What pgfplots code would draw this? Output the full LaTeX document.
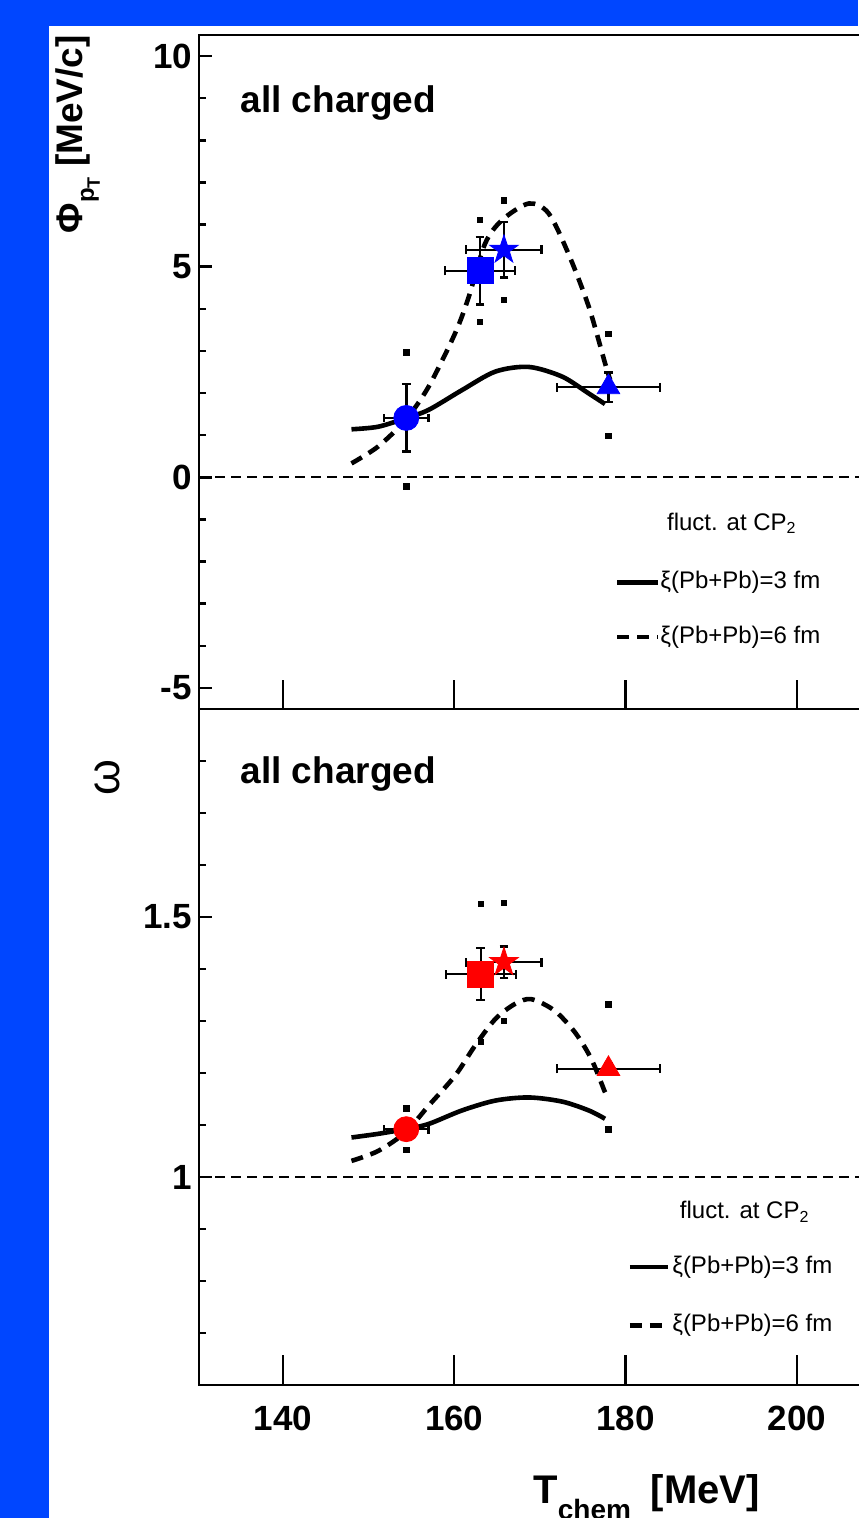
\documentclass[border=0pt]{standalone}
\usepackage{fontspec}
\setmainfont{Liberation Sans}
\usepackage{pgfplots}
\pgfplotsset{compat=1.18}
\definecolor{bgblue}{RGB}{0,70,255}
\definecolor{mblue}{RGB}{0,0,255}
\definecolor{mred}{RGB}{255,0,0}

% filled five-pointed star
\pgfdeclareplotmark{fstar}{%
  \pgfpathmoveto{\pgfpointpolar{90}{\pgfplotmarksize}}%
  \pgfpathlineto{\pgfpointpolar{126}{0.382\pgfplotmarksize}}%
  \pgfpathlineto{\pgfpointpolar{162}{\pgfplotmarksize}}%
  \pgfpathlineto{\pgfpointpolar{198}{0.382\pgfplotmarksize}}%
  \pgfpathlineto{\pgfpointpolar{234}{\pgfplotmarksize}}%
  \pgfpathlineto{\pgfpointpolar{270}{0.382\pgfplotmarksize}}%
  \pgfpathlineto{\pgfpointpolar{306}{\pgfplotmarksize}}%
  \pgfpathlineto{\pgfpointpolar{342}{0.382\pgfplotmarksize}}%
  \pgfpathlineto{\pgfpointpolar{18}{\pgfplotmarksize}}%
  \pgfpathlineto{\pgfpointpolar{54}{0.382\pgfplotmarksize}}%
  \pgfpathclose\pgfusepathqfillstroke}

\pgfplotsset{
  panel/.style={
    scale only axis, width=331.5pt, xmin=130.2, xmax=207.6,
    axis line style={line width=1.4pt},
    tick align=inside, ytick pos=left,
    major tick length=6.5pt, minor tick length=3.5pt,
    tick style={line width=1.2pt, black},
    /pgf/number format/assume math mode=true,
    ticklabel style={font=\fontsize{17.5}{18}\selectfont\bfseries},
  },
  sys/.style={only marks, mark=square*, mark size=1.4pt, black, forget plot},
  theo/.style={black, line width=2.3pt, smooth, tension=0.5, mark=none, forget plot},
  theod/.style={theo, dash pattern=on 6pt off 4pt},
  errb/.style={forget plot, mark=none, draw=none,
    error bars/.cd, x dir=both, x explicit, y dir=both, y explicit,
    error mark=|,
    error bar style={draw=black, solid, line width=1.2pt},
    error mark options={draw=black, solid, line width=1.2pt, mark size=2.2pt}},
}
\newcommand{\legfont}{\fontsize{12}{12}\selectfont}

\begin{document}
\begin{tikzpicture}
\useasboundingbox (0,0) rectangle (429pt,-759pt);
\fill[bgblue] (0,0) rectangle (429pt,-759pt);
\fill[white] (24.5pt,-13pt) rectangle (429pt,-759pt);

% ---------- top panel: Phi_pT ----------
\begin{axis}[panel, at={(99.5pt,-17.5pt)}, anchor=north west, height=337pt,
  ymin=-5.5, ymax=10.5, xtick=\empty,
  ytick={-5,0,5,10}, minor ytick={-4,-3,-2,-1,1,2,3,4,6,7,8,9}]
\draw[black, line width=1pt, dash pattern=on 5pt off 3pt] (axis cs:130.2,0) -- (axis cs:207.6,0);
\addplot[theo] coordinates {(148.0,1.14) (151.1,1.20) (154.3,1.40) (157.0,1.60) (160.9,2.07)
  (164.8,2.51) (168.7,2.62) (172.6,2.39) (175.7,1.99) (177.6,1.74)};
\addplot[theod] coordinates {(148.0,0.33) (151.1,0.73) (154.3,1.36) (157.0,2.15) (160.1,3.42)
  (161.7,4.29) (163.6,5.55) (165.6,6.11) (168.7,6.50) (171.0,6.27) (173.3,5.32) (175.7,4.05)
  (177.6,2.71) (178.2,2.31)};
\addplot[sys] coordinates {(154.4,2.97) (154.4,-0.21) (163.0,6.11) (163.0,3.69)
  (165.8,6.58) (165.8,4.21) (178.0,3.40) (178.0,0.98)};
\addplot[errb] coordinates {(154.4,1.41) +- (2.6,0.8) (163.0,4.90) +- (4.1,0.8)
  (165.8,5.40) +- (4.4,0.66) (178.0,2.14) +- (6.0,0.35)};
\addplot[only marks, mark=*, mark size=6.25pt, mblue] coordinates {(154.4,1.41)};
\addplot[only marks, mark=square*, mark size=6.5pt, mblue] coordinates {(163.0,4.90)};
\addplot[only marks, mark=fstar, mark size=7.5pt, mblue] coordinates {(165.8,5.40)};
\addplot[only marks, mark=triangle*, mark size=6.5pt, mblue] coordinates {(178.0,2.14)};
\pgfplotsinvokeforeach{140,160,180,200}{\draw[line width=1.2pt] (axis cs:#1,-5.5) -- ([yshift=14.5pt]axis cs:#1,-5.5);}
\node[anchor=west, inner sep=0, font=\fontsize{18.5}{19}\selectfont\bfseries] at (axis cs:135.0,8.88) {all charged};
\node[anchor=west, inner sep=0, font=\legfont] at (axis cs:184.8,-1.09) {fluct. at CP\textsubscript{2}};
\draw[black, line width=2.3pt] (axis cs:179.0,-2.49) -- (axis cs:183.8,-2.49);
\node[anchor=west, inner sep=0, font=\legfont] at (axis cs:184.0,-2.49) {ξ(Pb+Pb)=3 fm};
\draw[black, line width=2.3pt, dash pattern=on 6pt off 4pt] (axis cs:179.0,-3.79) -- (axis cs:183.8,-3.79);
\node[anchor=west, inner sep=0, font=\legfont] at (axis cs:184.0,-3.79) {ξ(Pb+Pb)=6 fm};
\end{axis}

% ---------- bottom panel: omega ----------
\begin{axis}[panel, at={(99.5pt,-354.5pt)}, anchor=north west, height=338pt,
  ymin=0.6, ymax=1.9,
  xtick={140,160,180,200}, xtick style={draw=none},
  xticklabel style={yshift=-7pt},
  ytick={1,1.5}, minor ytick={0.6,0.7,0.8,0.9,1.1,1.2,1.3,1.4,1.6,1.7,1.8}]
\draw[black, line width=1pt, dash pattern=on 5pt off 3pt] (axis cs:130.2,1) -- (axis cs:207.6,1);
\addplot[theo] coordinates {(148.0,1.076) (151.1,1.083) (154.3,1.092) (157.0,1.102) (160.9,1.128)
  (164.8,1.147) (168.7,1.153) (172.6,1.145) (175.7,1.128) (177.6,1.112)};
\addplot[theod] coordinates {(148.0,1.031) (151.1,1.050) (154.3,1.086) (157.0,1.137) (160.1,1.195)
  (162.4,1.252) (164.8,1.304) (167.1,1.333) (169.0,1.342) (171.7,1.320) (174.1,1.278)
  (176.0,1.227) (177.6,1.163) (178.0,1.150)};
\addplot[sys] coordinates {(154.4,1.132) (154.4,1.052) (163.1,1.525) (163.1,1.26)
  (165.8,1.527) (165.8,1.30) (178.0,1.332) (178.0,1.092)};
\addplot[errb] coordinates {(154.4,1.092) +- (2.6,0.01) (163.1,1.390) +- (4.1,0.05)
  (165.8,1.413) +- (4.4,0.03) (178.0,1.208) +- (6.0,0.01)};
\addplot[only marks, mark=*, mark size=6.25pt, mred] coordinates {(154.4,1.092)};
\addplot[only marks, mark=square*, mark size=6.5pt, mred] coordinates {(163.1,1.390)};
\addplot[only marks, mark=fstar, mark size=7.5pt, mred] coordinates {(165.8,1.413)};
\addplot[only marks, mark=triangle*, mark size=6.5pt, mred] coordinates {(178.0,1.208)};
\pgfplotsinvokeforeach{140,160,180,200}{\draw[line width=1.2pt] (axis cs:#1,0.6) -- ([yshift=15pt]axis cs:#1,0.6);}
\node[anchor=west, inner sep=0, font=\fontsize{18.5}{19}\selectfont\bfseries] at (axis cs:135.0,1.775) {all charged};
\node[anchor=west, inner sep=0, font=\legfont] at (axis cs:186.3,0.933) {fluct. at CP\textsubscript{2}};
\draw[black, line width=2.3pt] (axis cs:180.5,0.827) -- (axis cs:184.9,0.827);
\node[anchor=west, inner sep=0, font=\legfont] at (axis cs:185.4,0.827) {ξ(Pb+Pb)=3 fm};
\draw[black, line width=2.3pt, dash pattern=on 6pt off 4pt] (axis cs:180.5,0.715) -- (axis cs:184.9,0.715);
\node[anchor=west, inner sep=0, font=\legfont] at (axis cs:185.4,0.715) {ξ(Pb+Pb)=6 fm};
\end{axis}

% axis titles
\node[rotate=90, anchor=east, inner sep=0, font=\fontsize{18.5}{19}\selectfont\bfseries]
  at (39pt,-17.5pt) {Φ\raisebox{-0.3em}{\fontsize{12}{12}\selectfont p\raisebox{-0.25em}{\fontsize{9}{9}\selectfont T}}\ [MeV/c]};
\node[rotate=90, inner sep=0, font=\fontsize{23}{23}\selectfont] at (53.5pt,-389pt) {ω};
\node[anchor=north west, inner sep=0, font=\fontsize{20}{20}\selectfont\bfseries]
  at (266.5pt,-737pt) {T\raisebox{-0.4em}{\fontsize{14}{14}\selectfont chem}\hspace{0.5em}[MeV]};
\end{tikzpicture}
\end{document}
